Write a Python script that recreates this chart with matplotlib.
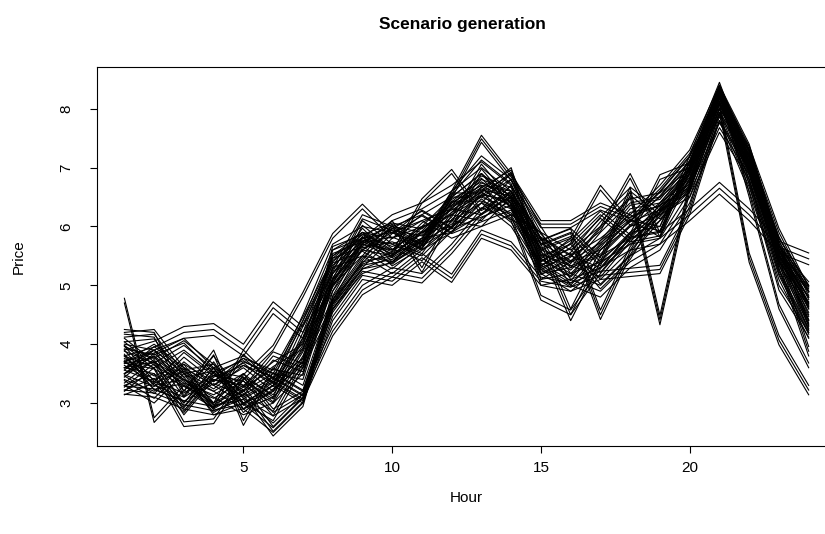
import matplotlib
matplotlib.use("Agg")
import matplotlib.pyplot as plt
import numpy as np

plt.rcParams["font.family"] = ["Liberation Sans", "DejaVu Sans"]

hours = np.arange(1, 25)

# base price paths; each one is drawn once per shift listed in `shifts`
paths = {
    "A": [4.78, 2.75, 3.3, 3.0, 3.5, 3.1, 4.2, 5.5, 5.9, 5.6, 6.0, 6.5, 6.9, 6.4, 5.3, 5.5, 5.8, 6.2, 5.9, 6.9, 8.2, 6.8, 5.0, 4.2],
    "B": [4.2, 4.25, 3.6, 3.0, 3.3, 2.6, 3.1, 4.9, 5.8, 5.9, 5.7, 6.4, 6.7, 6.6, 5.8, 5.5, 5.3, 5.9, 6.0, 7.2, 8.45, 7.1, 5.5, 4.8],
    "C": [3.9, 4.05, 4.3, 4.35, 4.0, 4.72, 4.3, 5.2, 5.7, 5.6, 6.0, 6.1, 6.4, 6.9, 6.0, 5.2, 5.0, 5.5, 5.8, 6.6, 8.0, 7.2, 5.8, 5.0],
    "D": [3.6, 3.5, 2.6, 2.65, 3.4, 3.9, 4.8, 5.8, 6.3, 5.8, 6.2, 5.9, 6.6, 6.1, 4.75, 4.5, 5.2, 5.8, 6.8, 7.0, 8.3, 6.5, 4.6, 3.6],
    "E": [3.5, 3.8, 3.4, 3.1, 2.8, 3.0, 3.5, 5.0, 5.6, 6.0, 6.2, 6.5, 6.9, 6.5, 5.6, 4.4, 5.4, 5.9, 6.3, 6.9, 8.2, 7.0, 5.4, 4.7],
    "F": [3.8, 3.6, 3.9, 3.5, 3.0, 2.7, 3.6, 4.6, 5.2, 5.4, 5.9, 6.2, 6.5, 6.8, 5.6, 5.8, 4.42, 5.5, 6.1, 6.8, 8.2, 6.9, 5.5, 4.9],
    "G": [3.4, 3.2, 3.7, 3.3, 3.6, 3.2, 3.9, 5.3, 5.5, 5.2, 5.6, 6.0, 6.9, 6.3, 5.1, 5.4, 6.0, 6.5, 4.33, 6.6, 8.2, 7.2, 5.6, 4.6],
    "H": [4.1, 3.7, 3.4, 3.2, 3.5, 2.9, 3.2, 4.7, 5.4, 5.5, 5.8, 6.6, 7.55, 6.9, 6.1, 6.1, 6.4, 6.2, 6.7, 7.3, 8.4, 7.3, 5.8, 5.0],
    "I": [3.7, 3.9, 3.2, 3.8, 3.1, 3.4, 4.5, 5.7, 6.0, 5.9, 6.1, 6.3, 6.2, 6.7, 5.2, 5.3, 5.5, 5.8, 5.9, 6.3, 6.75, 6.3, 5.75, 5.55],
    "J": [3.3, 3.5, 3.0, 3.6, 3.8, 3.5, 3.2, 4.3, 5.0, 5.3, 5.2, 5.7, 6.3, 6.6, 5.5, 5.7, 5.1, 5.6, 6.4, 6.8, 8.1, 5.55, 4.15, 3.3],
    "K": [3.15, 3.1, 2.9, 2.8, 3.0, 3.3, 3.0, 4.4, 5.1, 5.0, 5.4, 5.05, 5.8, 5.6, 5.0, 4.9, 5.1, 5.15, 5.2, 6.2, 7.8, 6.6, 5.1, 4.1],
    "L": [4.0, 3.9, 4.1, 3.6, 3.3, 3.7, 4.0, 5.1, 6.1, 5.7, 5.5, 6.0, 6.4, 6.2, 5.9, 5.6, 6.0, 6.9, 5.9, 7.1, 8.4, 7.4, 5.7, 4.4],
    "M": [3.3, 3.0, 3.5, 2.8, 2.9, 2.5, 3.0, 4.6, 5.3, 5.8, 6.1, 5.8, 6.0, 6.2, 5.3, 5.0, 5.6, 6.0, 6.2, 6.5, 7.6, 6.8, 5.3, 3.8],
    "N": [4.25, 4.2, 3.2, 3.9, 2.7, 3.6, 3.3, 4.8, 5.5, 6.1, 5.3, 6.2, 6.6, 7.0, 5.4, 5.8, 6.7, 6.1, 6.6, 7.2, 8.2, 7.0, 5.6, 4.5],
    "O": [3.7, 3.4, 3.6, 3.3, 3.7, 3.5, 4.4, 5.4, 5.8, 6.0, 5.9, 6.3, 6.8, 6.6, 5.5, 5.2, 5.7, 6.3, 6.4, 7.0, 8.3, 7.1, 5.5, 4.3],
    "P": [3.9, 3.3, 3.1, 3.4, 3.2, 3.8, 3.6, 5.2, 5.9, 5.4, 5.7, 6.5, 6.5, 6.3, 5.7, 5.9, 5.4, 6.6, 6.2, 6.7, 8.0, 7.3, 5.9, 4.9],
    "Q": [3.6, 3.7, 3.3, 2.9, 3.2, 3.5, 3.4, 5.0, 5.7, 5.5, 6.4, 6.9, 6.2, 6.5, 5.8, 5.3, 5.9, 6.4, 6.5, 6.9, 8.1, 6.9, 5.4, 4.4],
    "R": [3.5, 3.9, 3.5, 3.6, 2.9, 3.3, 3.7, 5.6, 5.8, 5.6, 5.8, 6.4, 6.7, 6.4, 5.4, 5.7, 6.2, 5.8, 6.3, 6.9, 8.3, 7.2, 5.6, 4.6],
    "S": [3.8, 3.3, 3.4, 3.0, 3.9, 3.4, 4.1, 5.3, 6.2, 6.0, 5.7, 6.6, 7.2, 6.8, 5.6, 5.4, 5.6, 6.1, 6.0, 7.0, 8.3, 7.1, 5.7, 4.7],
    "T": [3.2, 3.6, 2.8, 3.4, 3.3, 3.0, 3.8, 4.9, 5.6, 5.9, 5.6, 5.9, 6.4, 6.0, 5.2, 4.9, 5.3, 5.7, 6.1, 6.6, 8.0, 6.8, 5.2, 4.2],
}

shifts = {
    "A": [0, -0.08],
    "B": [0, -0.08, -0.16],
    "C": [0, -0.1, -0.2],
    "D": [0, 0.08],
    "E": [0, 0.1, 0.2],
    "F": [0, 0.08, 0.16],
    "G": [0, 0.08, 0.16],
    "H": [0, -0.06, -0.12],
    "I": [0, -0.1, -0.2],
    "J": [0, -0.08, -0.16],
    "K": [0, 0.07, 0.14],
    "L": [0, -0.08],
    "M": [0, 0.08, 0.16],
    "N": [0, -0.08],
    "O": [0, -0.06, 0.06],
    "P": [0, 0.07, -0.07],
    "Q": [0, 0.07],
    "R": [0, 0.06, -0.06],
    "S": [0, -0.07],
    "T": [0, 0.07, 0.14],
}

fig = plt.figure(figsize=(8.25, 5.34), dpi=100)
ax = fig.add_axes([0.1176, 0.1648, 0.8958, 0.7097])

for key, base in paths.items():
    base = np.array(base)
    for s in shifts[key]:
        ax.plot(hours, base + s, color="black", linewidth=0.8)

ax.set_xlim(0.08, 24.92)
ax.set_ylim(2.27, 8.71)
ax.set_xticks([5, 10, 15, 20])
ax.set_yticks([3, 4, 5, 6, 7, 8])
ax.tick_params(direction="out", length=5, width=0.8, labelsize=11, pad=6)
ax.tick_params(axis="y", labelrotation=90, pad=12)
for lab in ax.get_yticklabels():
    lab.set_va("center")
for sp in ax.spines.values():
    sp.set_linewidth(0.8)

ax.set_xlabel("Hour", fontsize=11, labelpad=11)
ax.set_ylabel("Price", fontsize=11, labelpad=24)
fig.text(0.56, 0.955, "Scenario generation", ha="center", va="center",
         fontsize=12.5, fontweight="bold")

fig.savefig("out.png", dpi=100)
